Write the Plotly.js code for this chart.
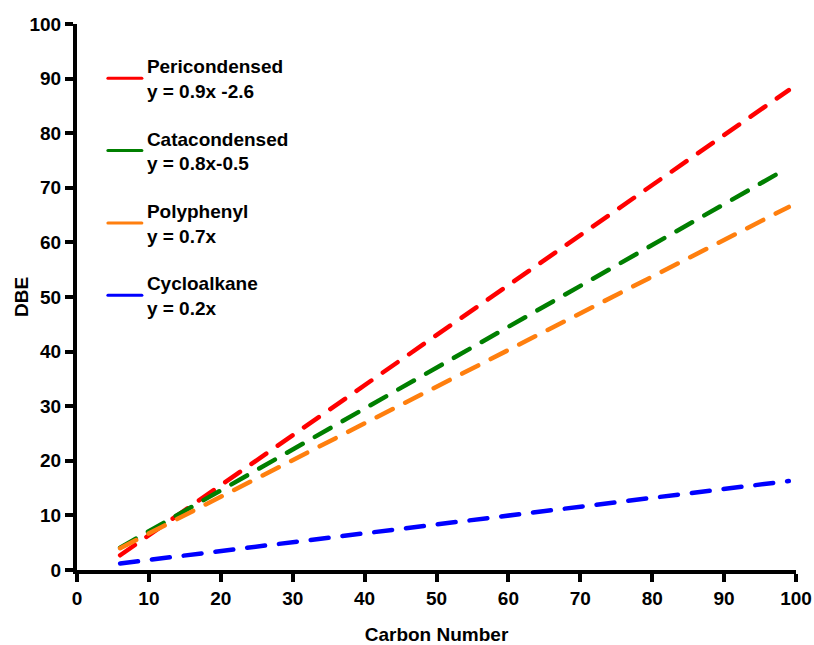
<!DOCTYPE html>
<html>
<head>
<meta charset="utf-8">
<script src="https://cdn.plot.ly/plotly-3.0.1.min.js"></script>
<style>
html,body{margin:0;padding:0;background:#fff;}
#chart{width:814px;height:645px;}
.js-line{stroke-linecap:round;}
</style>
</head>
<body>
<div id="chart"></div>
<script>
// Data (line endpoints)
var seriesNames = ["Pericondensed<br>y = 0.9x -2.6", "Catacondensed<br>y = 0.8x-0.5", "Polyphenyl<br>y = 0.7x", "Cycloalkane<br>y = 0.2x"];
var seriesColors = ["#ff0000", "#007f00", "#ff7f0e", "#0000ff"];
var periX = [6, 99];
var periY = [2.7, 87.9];
var cataX = [6, 98];
var cataY = [4.1, 73.0];
var polyX = [6, 99];
var polyY = [4.0, 66.5];
var cycloX = [6, 99];
var cycloY = [1.2, 16.3];
var xTicks = [0, 10, 20, 30, 40, 50, 60, 70, 80, 90, 100];
var yTicks = [0, 10, 20, 30, 40, 50, 60, 70, 80, 90, 100];
var xTitle = 'Carbon Number';
var yTitle = 'DBE';

var xs = [periX, cataX, polyX, cycloX];
var ys = [periY, cataY, polyY, cycloY];
var traces = [];
for (var i = 0; i < 4; i++) {
  traces.push({
    x: xs[i], y: ys[i], mode: 'lines', showlegend: false,
    line: {color: seriesColors[i], width: 4.5, dash: '18px,14px'},
    hoverinfo: 'skip'
  });
}
for (var j = 0; j < 4; j++) {
  traces.push({
    x: [null], y: [null], mode: 'lines', name: seriesNames[j],
    legendgroup: 'g' + j,
    line: {color: seriesColors[j], width: 3}
  });
}
var fontFam = 'Arial, "Liberation Sans", sans-serif';
var layout = {
  width: 814, height: 645,
  margin: {l: 77, r: 18, t: 24, b: 75},
  paper_bgcolor: '#fff', plot_bgcolor: '#fff',
  font: {family: fontFam, color: '#000', size: 19, weight: 'bold'},
  showlegend: true,
  legend: {
    x: 0.036, y: 0.958, xanchor: 'left', yanchor: 'top',
    bgcolor: 'rgba(0,0,0,0)', traceorder: 'grouped', tracegroupgap: 20,
    font: {family: fontFam, size: 19, color: '#000', weight: 'bold'},
    itemwidth: 34, valign: 'middle'
  },
  xaxis: {
    range: [0, 100], tickvals: xTicks, ticktext: xTicks.map(String),
    showgrid: false, zeroline: false, showline: true, linecolor: '#000', linewidth: 4,
    ticks: 'outside', ticklen: 8, tickwidth: 4, tickcolor: '#000',
    tickfont: {family: fontFam, size: 19, color: '#000', weight: 'bold'},
    title: {text: xTitle, standoff: 28, font: {family: fontFam, size: 19, color: '#000', weight: 'bold'}}
  },
  yaxis: {
    range: [0, 100], tickvals: yTicks, ticktext: yTicks.map(String),
    showgrid: false, zeroline: false, showline: true, linecolor: '#000', linewidth: 4,
    ticks: 'outside', ticklen: 8, tickwidth: 4, tickcolor: '#000',
    tickfont: {family: fontFam, size: 19, color: '#000', weight: 'bold'}
  },
  annotations: [{
    text: yTitle, textangle: -90, xref: 'paper', yref: 'paper',
    x: -0.078, y: 0.5, xanchor: 'center', yanchor: 'middle', showarrow: false,
    font: {family: fontFam, size: 19, color: '#000', weight: 'bold'}
  }]
};
Plotly.newPlot('chart', traces, layout, {displayModeBar: false, staticPlot: true});
</script>
</body>
</html>
